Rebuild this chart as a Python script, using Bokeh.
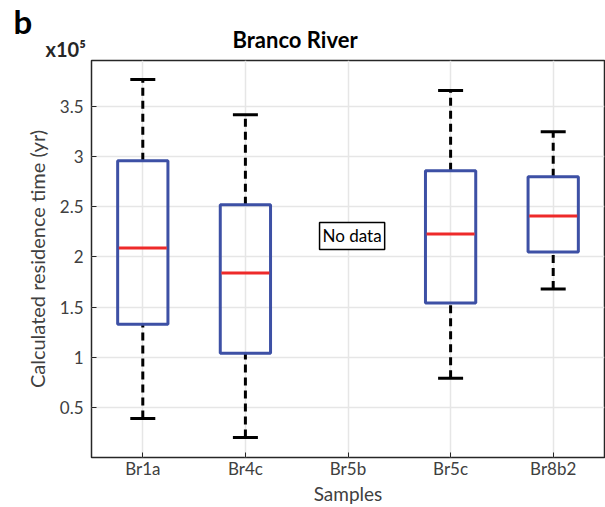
from bokeh.plotting import figure
from bokeh.models import FactorRange, Range1d, Label, FixedTicker, ColumnDataSource, Title
from bokeh.embed import file_html
from bokeh.resources import INLINE

samples = ["Br1a", "Br4c", "Br5b", "Br5c", "Br8b2"]
# values in units of 1e5 yr; Br5b has no data
has_data = ["Br1a", "Br4c", "Br5c", "Br8b2"]
upper_whisker = [3.77, 3.42, 3.66, 3.25]
q3 = [2.96, 2.52, 2.86, 2.80]
median = [2.09, 1.84, 2.23, 2.41]
q1 = [1.33, 1.04, 1.54, 2.05]
lower_whisker = [0.39, 0.20, 0.79, 1.68]
y_ticks = [0.5, 1, 1.5, 2, 2.5, 3, 3.5]

FONT = "Lato"
W, H = 605, 507

p = figure(width=W, height=H, x_range=FactorRange(*samples, range_padding=0),
           y_range=Range1d(0, 3.96), output_backend="svg", toolbar_location=None,
           title=None,
           min_border_left=91, min_border_right=1, min_border_top=60, min_border_bottom=50)
p.x_range.factor_padding = 0
p.outline_line_color = "#262626"
p.outline_line_width = 1.5
p.outline_line_alpha = 1

for ax in (p.xaxis, p.yaxis):
    ax.axis_line_color = None
    ax.major_tick_in = 5
    ax.major_tick_out = 0
    ax.minor_tick_line_color = None
    ax.major_tick_line_color = "#262626"
    ax.major_label_text_font = FONT
    ax.major_label_text_font_size = "17px"
    ax.major_label_text_color = "#404040"
    ax.axis_label_text_font = FONT
    ax.axis_label_text_font_style = "normal"
    ax.axis_label_text_font_size = "20px"
    ax.axis_label_text_color = "#404040"

p.yaxis.ticker = FixedTicker(ticks=y_ticks)
p.yaxis.major_label_overrides = {0.5: "0.5", 1: "1", 1.5: "1.5", 2: "2", 2.5: "2.5", 3: "3", 3.5: "3.5"}
p.xaxis.axis_label = "Samples"
p.yaxis.axis_label = "Calculated residence time (yr)"
p.xaxis.axis_label_text_font_size = "19px"
p.xaxis.axis_label_standoff = 0
p.yaxis.axis_label_standoff = 8
p.xaxis.major_label_standoff = 0
p.yaxis.major_label_standoff = 8

p.xgrid.grid_line_color = "#e6e6e6"
p.ygrid.grid_line_color = "#e6e6e6"
p.xgrid.grid_line_width = 1.5
p.ygrid.grid_line_width = 1.5

src = ColumnDataSource(dict(x=has_data, uw=upper_whisker, q3=q3, med=median, q1=q1, lw=lower_whisker))

# whiskers
p.segment(x0="x", y0="q3", x1="x", y1="uw", source=src, line_color="black", line_width=3, line_dash="8 5")
p.segment(x0="x", y0="lw", x1="x", y1="q1", source=src, line_color="black", line_width=3, line_dash="8 5")
# caps
p.scatter(x="x", y="uw", marker="dash", size=25, source=src, line_color="black", line_width=3)
p.scatter(x="x", y="lw", marker="dash", size=25, source=src, line_color="black", line_width=3)
# boxes
p.vbar(x="x", top="q3", bottom="q1", width=0.49, source=src, fill_color=None,
       line_color="#3d50a5", line_width=3)
# medians
p.scatter(x="x", y="med", marker="dash", size=48, source=src, line_color="#ee2a2a", line_width=3)

# No data label
p.add_layout(Label(x=2.54, y=2.21, x_units="data", y_units="data", text="No data",
                   text_font=FONT, text_font_size="17px", text_color="black",
                   text_align="center", text_baseline="middle",
                   border_line_color="black", border_line_width=1.5,
                   background_fill_color="white", padding=3))

# titles stacked above the frame (first added = innermost)
p.add_layout(Title(text="x10\u2075", align="left", offset=-46, standoff=-1,
                   text_font=FONT, text_font_size="20px", text_font_style="bold",
                   text_color="#262626"), "above")
p.add_layout(Title(text="Branco River", align="left", offset=141, standoff=-34,
                   text_font=FONT, text_font_size="22px", text_font_style="bold",
                   text_color="black"), "above")
p.add_layout(Title(text="b", align="left", offset=-78, standoff=-11,
                   text_font=FONT, text_font_size="33px", text_font_style="bold",
                   text_color="black"), "above")
open("out.html", "w").write(file_html(p, INLINE))
